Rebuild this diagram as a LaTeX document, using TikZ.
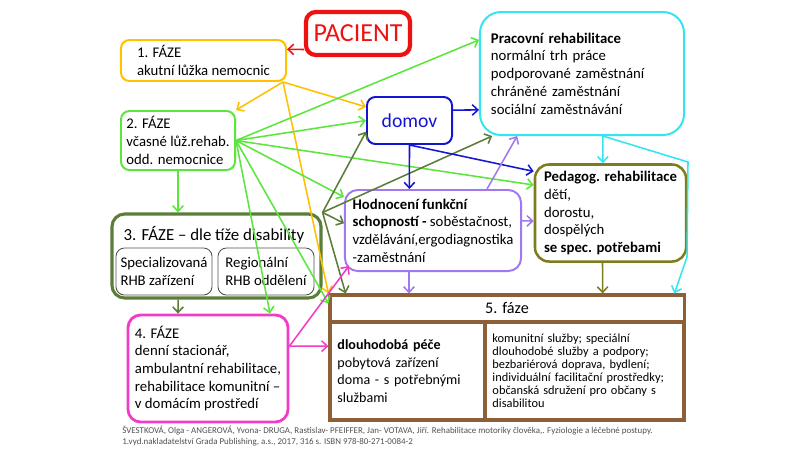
\documentclass[tikz,border=0pt]{standalone}
\usepackage{fontspec}
\setmainfont{Carlito}
\usetikzlibrary{arrows.meta, calc}
\definecolor{mRed}{HTML}{EE1111}
\definecolor{mOrange}{HTML}{FFC000}
\definecolor{mLime}{HTML}{5AE63C}
\definecolor{mGreenDk}{HTML}{5A7D37}
\definecolor{mMagenta}{HTML}{F03CC8}
\definecolor{mBlue}{HTML}{1414D2}
\definecolor{mCyan}{HTML}{33E5F0}
\definecolor{mOlive}{HTML}{7D7D1E}
\definecolor{mPurple}{HTML}{A078F0}
\definecolor{mBrown}{HTML}{8C5F37}
\definecolor{mGray}{HTML}{505050}

\begin{document}
\begin{tikzpicture}[x=0.025cm, y=-0.025cm,
    box/.style={draw, rounded corners=6pt, align=left, line width=1.4pt,
                font=\fontsize{10.5}{12.6}\selectfont, inner sep=3pt},
    cell/.style={draw=mBrown, line width=2.2pt, align=left, inner sep=0.18cm},
    arr/.style={-{Straight Barb[length=4pt,width=7.5pt]}, line width=1.1pt},
  ]
    \useasboundingbox (0,0) rectangle (800,450);

    % patient and first phases
    \node[box, draw=mRed, line width=3pt, rounded corners=7pt, text=mRed, align=center,
          font=\fontsize{18.5}{20}\selectfont, minimum width=2.6cm, minimum height=1.075cm]
          (pacient) at (358,33.5) {PACIENT};
    \node[box, draw=mOrange, minimum width=4.125cm, minimum height=1.025cm]
          (faze1) at (203.5,60.5) {1. FÁZE\\akutní lůžka nemocnic};
    \node[box, draw=mLime, minimum width=2.85cm, minimum height=1.475cm]
          (faze2) at (178,140.5) {2. FÁZE\\včasné lůž.rehab.\\odd. nemocnice};

    % phase 3 with its two inner boxes
    \node[box, draw=mGreenDk, line width=2.2pt, rounded corners=9pt,
          minimum width=5.225cm, minimum height=2.1cm] (faze3) at (216.5,256) {};
    \node[font=\fontsize{12}{14}\selectfont, inner sep=0pt] (faze3title) at (214,235)
          {3. FÁZE – dle tíže disability};
    \node[box, draw=mGray, line width=0.6pt, inner sep=1pt,
          minimum width=2.4cm, minimum height=1.175cm] (spec) at (164,271.5)
          {Specializovaná\\RHB zařízení};
    \node[box, draw=mGray, line width=0.6pt, inner sep=1pt,
          minimum width=2.4cm, minimum height=1.175cm] (regional) at (266,271.5)
          {Regionální\\RHB oddělení};

    \node[box, draw=mMagenta, line width=2pt, rounded corners=9pt,
          minimum width=4cm, minimum height=2.675cm] (faze4) at (208,368.5)
          {4. FÁZE\\denní stacionář,\\ambulantní rehabilitace,\\rehabilitace komunitní –\\v domácím prostředí};

    % right part
    \node[box, draw=mBlue, text=mBlue, align=center, font=\fontsize{14}{16}\selectfont,
          minimum width=2.125cm, minimum height=1.175cm] (domov) at (409.5,120.5) {domov};
    \node[box, draw=mCyan, rounded corners=15pt, text width=4.55cm,
          minimum width=5.1cm, minimum height=3.075cm] (pracovni) at (582,73.5)
          {\textbf{Pracovní rehabilitace}\\normální trh práce\\podporované zaměstnání\\chráněné zaměstnání\\sociální zaměstnávání};
    \node[box, draw=mOlive, line width=1.8pt, rounded corners=10pt,
          minimum width=3.775cm, minimum height=2.425cm] (pedagog) at (610.5,213)
          {\textbf{Pedagog. rehabilitace}\\dětí,\\dorostu,\\dospělých\\\textbf{se spec. potřebami}};
    \node[box, draw=mPurple, rounded corners=9pt,
          minimum width=4.4cm, minimum height=2.025cm] (hodnoceni) at (433,230.5)
          {\textbf{Hodnocení funkční}\\\textbf{schopností -} soběstačnost,\\vzdělávání,ergodiagnostika\\-zaměstnání};

    % phase 5 table
    \node[cell, align=center, inner sep=0pt, font=\fontsize{11.5}{13}\selectfont,
          minimum width=8.85cm, minimum height=0.675cm] (faze5) at (507,308.5) {5. fáze};
    \node[cell, text width=3.5cm, font=\fontsize{10}{12.6}\selectfont,
          minimum width=3.875cm, minimum height=2.45cm] (pece) at (407.5,371)
          {\textbf{dlouhodobá péče}\\pobytová zařízení\\doma - s potřebnými\\službami\\[2pt]};
    \node[cell, text width=4.6cm, font=\fontsize{8.8}{9.3}\selectfont,
          minimum width=4.975cm, minimum height=2.45cm] (sluzby) at (584.5,371)
          {komunitní služby; speciální\\dlouhodobé služby a podpory;\\bezbariérová doprava, bydlení;\\individuální facilitační prostředky;\\občanská sdružení pro občany s\\disabilitou};

    % source
    \node[anchor=north west, align=left, text=mGray, inner sep=0pt,
          font=\fontsize{6.35}{7.8}\selectfont] (zdroj) at (122,426)
          {ŠVESTKOVÁ, Olga - ANGEROVÁ, Yvona- DRUGA, Rastislav- PFEIFFER, Jan- VOTAVA, Jiří. Rehabilitace motoriky člověka,. Fyziologie a léčebné postupy.\\1.vyd.nakladatelství Grada Publishing,  a.s., 2017, 316 s. ISBN 978-80-271-0084-2};

    % edges
    \draw[arr, mRed] ([yshift=-0.4cm]pacient.west) -- ([yshift=0.28cm]faze1.east);

    \draw[arr, mOrange] ([xshift=-0.1cm]faze1.south east) -- (faze2.north east);
    \draw[arr, mOrange] ([xshift=-0.1cm]faze1.south east) -- ([yshift=0.34cm]domov.west);
    \draw[arr, mOrange] ([xshift=-0.1cm]faze1.south east) -- (faze5.north west);

    \draw[arr, mLime] (faze2.east) -- ([yshift=0.84cm]pracovni.west);
    \draw[arr, mLime] (faze2.east) -- (domov.west);
    \draw[arr, mLime] (faze2.east) -- ([yshift=0.7cm]pedagog.west);
    \draw[arr, mLime] (faze2.east) -- ([yshift=-0.2cm]hodnoceni.north west);
    \draw[arr, mLime] (faze2.east) -- ([xshift=1.55cm]faze4.north);
    \draw[arr, mLime] (faze2.east) -- ([yshift=-0.25cm]faze5.north west);
    \draw[arr, mLime] (faze2.south) -- (faze2.south |- faze3.north);

    \draw[arr, mGreenDk] (faze3.north east) -- ([yshift=-0.28cm]domov.west);
    \draw[arr, mGreenDk] (faze3.north east) -- ([xshift=0.33cm]pracovni.south west);
    \draw[arr, mGreenDk] (faze3.north east) -- ([yshift=0.18cm]hodnoceni.west);
    \draw[arr, mGreenDk] (faze3.north east) -- ([xshift=0.43cm]faze5.north west);
    \draw[arr, mGreenDk] ([xshift=-0.96cm]faze3.south) -- ([xshift=-0.75cm]faze4.north);

    \draw[arr, mMagenta] ([yshift=0.56cm]faze4.east) -- ([yshift=0.62cm]pece.west);
    \draw[arr, mMagenta] ([yshift=0.56cm]faze4.east) -- ([shift={(0.12cm,0.15cm)}]hodnoceni.south west);

    \draw[arr, mBlue] ([yshift=0.26cm]domov.east) -- ([yshift=-0.91cm]pracovni.west);
    \draw[arr, mBlue] (domov.south) -- ([xshift=-0.59cm]hodnoceni.north);
    \draw[arr, mBlue] (domov.south) -- ([yshift=1.04cm]pedagog.west);

    \draw[arr, mPurple] ([xshift=1.35cm]hodnoceni.north) -- ([xshift=-1.62cm]pracovni.south);
    \draw[arr, mPurple] ([yshift=0.24cm]hodnoceni.east) -- ([yshift=-0.2cm]pedagog.west);
    \draw[arr, mPurple] ([xshift=-0.6cm]hodnoceni.south) -- ([xshift=-2.45cm]faze5.north);

    \draw[arr, mOlive] ([xshift=-0.2cm]pedagog.south) -- ([xshift=2.39cm]faze5.north);

    \coordinate (cyanA) at (688,162);
    \coordinate (cyanB) at (687,257);
    \draw[arr, mCyan] ([xshift=0.52cm]pracovni.south) -- ([xshift=-0.19cm]pedagog.north);
    \draw[arr, mCyan] ([xshift=0.52cm]pracovni.south) -- (cyanA) -- (cyanB) -- ([xshift=-0.28cm]faze5.north east);
  \end{tikzpicture}
\end{document}
